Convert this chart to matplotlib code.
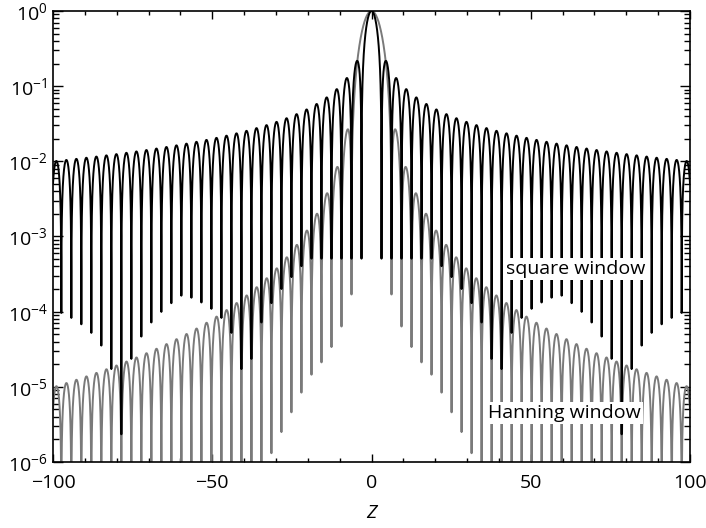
import numpy as np
import matplotlib
matplotlib.use("Agg")
import matplotlib.pyplot as plt
from matplotlib.ticker import LogLocator, FixedLocator

plt.rcParams['font.family'] = ['Open Sans', 'DejaVu Sans']
plt.rcParams['mathtext.default'] = 'regular'

# Sampling grid of the normalised frequency z (as in the source plot)
z_limits = [-100, 100]
z_step = 0.02
z = np.arange(-5000, 5001) * z_step

# Window spectra
square = np.abs(np.sinc(z / np.pi))                       # |sin z / z|
hanning = np.abs(np.sinc(z / np.pi) * np.pi**2 / (np.pi**2 - z**2))

y_limits = [1e-6, 1.0]
x_major = [-100, -50, 0, 50, 100]
x_minor = [-90, -80, -70, -60, -40, -30, -20, -10, 10, 20, 30, 40, 60, 70, 80, 90]
labels = ["square window", "Hanning window"]
label_pos = [(64, 10**-3.43), (60.5, 10**-5.35)]

fig = plt.figure(figsize=(7.06, 5.28), dpi=100)
ax = fig.add_axes([53/706, 1 - 462/528, (690-53)/706, (462-11)/528])

ax.plot(z, hanning, color='#7a7a7a', lw=1.4)
ax.plot(z, square, color='black', lw=1.4)

ax.set_yscale('log')
ax.set_xlim(*z_limits)
ax.set_ylim(*y_limits)
ax.xaxis.set_major_locator(FixedLocator(x_major))
ax.xaxis.set_minor_locator(FixedLocator(x_minor))
ax.yaxis.set_major_locator(LogLocator(base=10, numticks=10))
ax.yaxis.set_minor_locator(LogLocator(base=10, subs=np.arange(2, 10), numticks=10))

ax.tick_params(which='both', direction='in', top=True, right=True, labelsize=14, width=1.0)
ax.tick_params(axis='y', which='major', length=7, pad=4)
ax.tick_params(axis='y', which='minor', length=4.5)
ax.tick_params(axis='x', which='major', length=6, pad=9)
ax.tick_params(axis='x', which='minor', length=3)
for s in ax.spines.values():
    s.set_linewidth(1.2)

ax.set_xlabel('Z', fontsize=14, style='italic', labelpad=8)

for txt, (xx, yy) in zip(labels, label_pos):
    ax.text(xx, yy, txt, fontsize=14, ha='center', va='center',
            bbox=dict(facecolor='white', edgecolor='none', pad=1.5))

fig.savefig('out.png', dpi=100)
